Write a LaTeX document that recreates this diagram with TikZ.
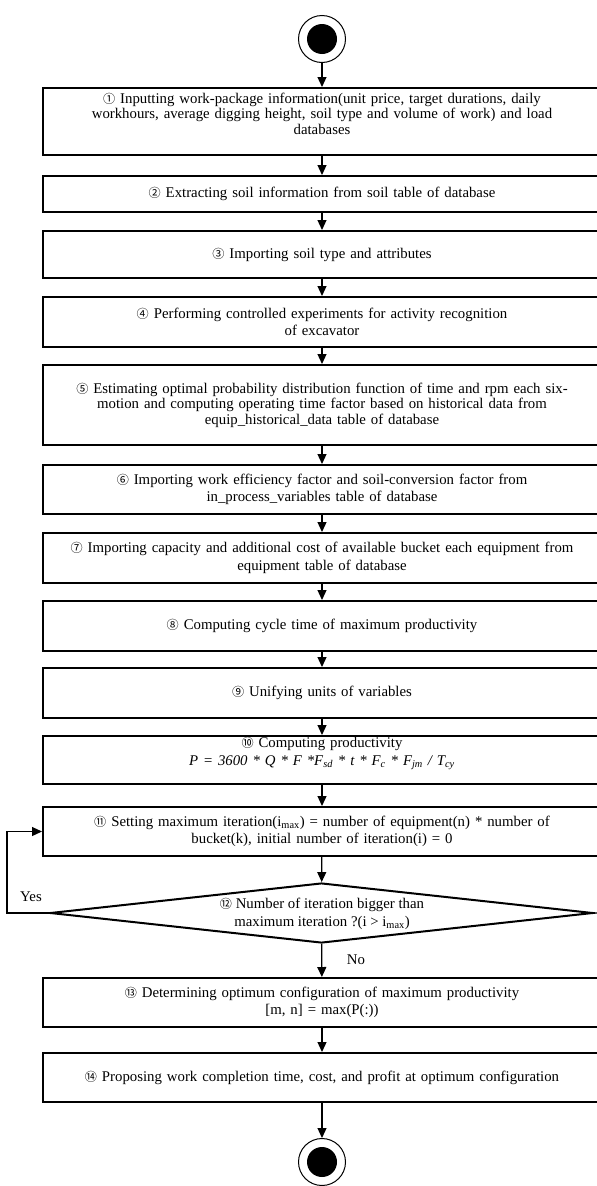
\documentclass[tikz,border=0pt]{standalone}
\usepackage{fontspec}
\setmainfont{Liberation Serif}
\newfontfamily\cjk[Scale=0.82]{Noto Sans CJK SC}
\usetikzlibrary{arrows.meta,shapes.geometric,positioning}
\newcommand{\cnum}[1]{{\cjk #1}}

\begin{document}
\begin{tikzpicture}[x=1pt, y=-1pt, >={Triangle[width=9pt,length=10pt]},
  font=\fontsize{14.8}{17.5}\selectfont,
  stepbox/.style={draw, line width=2pt, minimum width=558pt, text width=552pt, inner sep=0pt, align=center},
  tight/.style={font=\fontsize{14.8}{15.5}\selectfont},
  flow/.style={->, line width=1.2pt},
  endpt/.style={circle, draw, line width=1pt, minimum size=47pt, inner sep=0pt,
    path picture={\fill (path picture bounding box.center) circle[radius=15pt];}}]
\clip (0,0) rectangle (597,1186);
% start and steps
\node[endpt] (start) at (322,39) {};
\node[stepbox, tight, minimum height=67pt] (s1) at (322,121.5) {\cnum{①} Inputting work-package information(unit price, target durations, daily\\ workhours, average digging height, soil type and volume of work) and load\\ databases\\ \mbox{}};
\node[stepbox, minimum height=36pt] (s2) at (322,194) {\cnum{②} Extracting soil information from soil table of database};
\node[stepbox, minimum height=47pt] (s3) at (322,254.5) {\cnum{③} Importing soil type and attributes};
\node[stepbox, minimum height=50pt] (s4) at (322,322) {\cnum{④} Performing controlled experiments for activity recognition\\ of excavator};
\node[stepbox, tight, minimum height=80pt] (s5) at (322,405) {\cnum{⑤} Estimating optimal probability distribution function of time and rpm each six-\\ motion and computing operating time factor based on historical data from\\ equip\_historical\_data table of database};
\node[stepbox, minimum height=49pt] (s6) at (322,489.5) {\cnum{⑥} Importing work efficiency factor and soil-conversion factor from\\ in\_process\_variables table of database};
\node[stepbox, minimum height=50pt] (s7) at (322,558) {\cnum{⑦} Importing capacity and additional cost of available bucket each equipment from\\ equipment table of database};
\node[stepbox, minimum height=50pt] (s8) at (322,626) {\cnum{⑧} Computing cycle time of maximum productivity};
\node[stepbox, minimum height=50pt] (s9) at (322,693) {\cnum{⑨} Unifying units of variables};
\node[stepbox, minimum height=48pt] (s10) at (322,760) {\cnum{⑩} Computing productivity\\ \textit{P = 3600 * Q * F *F\textsubscript{sd} * t * F\textsubscript{c} * F\textsubscript{jm} / T\textsubscript{cy}}\\ \mbox{}};
\node[stepbox, minimum height=49pt] (s11) at (322,831.5) {\cnum{⑪} Setting maximum iteration(i\textsubscript{max}) = number of equipment(n) * number of\\ bucket(k), initial number of iteration(i) = 0};
% decision
\node[diamond, draw, line width=2pt, minimum width=543pt, minimum height=60pt, inner sep=0pt] (dec) at (321.5,913) {};
\node[align=center, inner sep=0pt] (dectext) at (322,914) {\cnum{⑫} Number of iteration bigger than\\ maximum iteration ?(i > i\textsubscript{max})};
\node[stepbox, minimum height=49pt] (s13) at (322,1002.5) {\cnum{⑬} Determining optimum configuration of maximum productivity\\ {}[m, n] = max(P(:))};
\node[stepbox, minimum height=49pt] (s14) at (322,1077.5) {\cnum{⑭} Proposing work completion time, cost, and profit at optimum configuration};
\node[endpt] (end) at (322,1162) {};
% connectors
\draw[flow] (start) -- (s1);
\foreach \a/\b in {s1/s2,s2/s3,s3/s4,s4/s5,s5/s6,s6/s7,s7/s8,s8/s9,s9/s10,s10/s11,s11/dec,dec/s13,s13/s14,s14/end}
  \draw[flow] (\a) -- (\b);
\coordinate (loopx) at (7,913);
\draw[flow] (dec.west) -- (loopx) |- (s11.west);
\node (yes) at (31,897) {Yes};
\node (no) at (356,960) {No};
\end{tikzpicture}
\end{document}
